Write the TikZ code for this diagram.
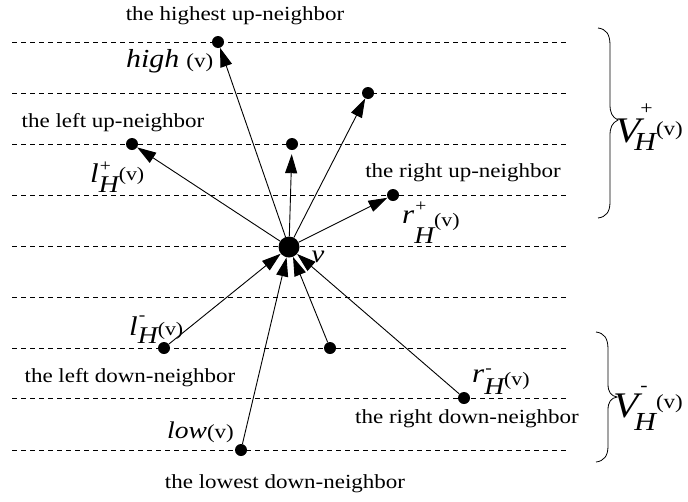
\documentclass[tikz,border=0pt]{standalone}
\usepackage{fontspec}
\setmainfont{Liberation Serif}[FakeStretch=1.15]
\usetikzlibrary{arrows.meta}
\newcommand\fs[1]{\fontsize{#1}{#1}\selectfont}
% #1 letter, #2 sign, #3 sign raise, #4 H drop, #5 (v) raise
\newcommand\nlab[5]{{\fs{27}\itshape #1}\rlap{\raisebox{#3}{\kern1pt\fs{17}#2}}\raisebox{-#4}{\fs{24}\itshape H}\raisebox{#5}{\fs{19}(v)}}
\begin{document}
\begin{tikzpicture}[x=1pt,y=-1pt,
  dot/.style={circle,fill=black,inner sep=0pt,minimum size=12pt},
  bigdot/.style={circle,fill=black,inner sep=0pt,minimum size=21pt},
  level/.style={dash pattern=on 5pt off 4pt,line width=0.6pt},
  arr/.style={line width=0.9pt,-{Triangle[length=19pt,width=12pt]}},
  txt/.style={inner sep=0pt,anchor=base,font=\fs{20}},
  lab/.style={inner sep=0pt,anchor=base west},
  bracestyle/.style={line width=0.8pt}]
\useasboundingbox (0,0) rectangle (688,501);
\foreach \y in {42,93,144,195,246,297,348,398,450} \draw[level] (12,\y) -- (567,\y);
% dots
\node[bigdot] (v) at (289,247) {};
\node[dot] (hi) at (218,42) {};
\node[dot] (lu) at (132,144) {};
\node[dot] (mu) at (292,144) {};
\node[dot] (ur) at (368,93) {};
\node[dot] (ru) at (393,195) {};
\node[dot] (ld) at (164,348) {};
\node[dot] (md) at (330,348) {};
\node[dot] (rd) at (464,398) {};
\node[dot] (lo) at (241,450) {};
% arrows
\draw[arr] (v) -- (hi);
\draw[arr] (v) -- (lu);
\draw[arr,shorten >=4pt] (v) -- (mu);
\draw[arr] (v) -- (ur);
\draw[arr] (v) -- (ru);
\draw[arr] (ld) -- (v);
\draw[arr] (lo) -- (v);
\draw[arr] (md) -- (v);
\draw[arr] (rd) -- (v);
% texts
\node[txt] (t1) at (235,20) {the highest up-neighbor};
\node[txt] (t2) at (113,127) {the left up-neighbor};
\node[txt] (t3) at (463,177) {the right up-neighbor};
\node[txt] (t4) at (130,382) {the left down-neighbor};
\node[txt] (t5) at (467,423) {the right down-neighbor};
\node[txt] (t6) at (285,488) {the lowest down-neighbor};
\node[lab] (hl) at (126,67) {{\fs{26}\itshape high}\hspace{7pt}{\fs{20}(v)}};
\node[lab] (lw) at (167,438) {{\fs{24}\itshape low}{\fs{20}(v)}};
\node[inner sep=0pt,anchor=base] (vl) at (318,262) {\fs{25}\itshape v};
\node[lab] (lp) at (90,182) {\nlab{l}{+}{11pt}{10pt}{2pt}};
\node[lab] (rp) at (402,223) {\nlab{r}{+}{12pt}{20pt}{-3pt}};
\node[lab] (lm) at (129,335) {\nlab{l}{-}{15pt}{8pt}{0pt}};
\node[lab] (rm) at (472,382) {\nlab{r}{-}{9pt}{12pt}{-3pt}};
\node[lab] (Vp) at (615,142) {{\fs{36}\itshape V}\kern-6pt\rlap{\raisebox{28pt}{\kern6pt\fs{19}+}}\raisebox{-8pt}{\fs{26}\itshape H}\raisebox{7pt}{\fs{20}(v)}};
\node[lab] (Vm) at (613,417) {{\fs{36}\itshape V}\kern-4pt\rlap{\raisebox{26pt}{\kern6pt\fs{19}-}}\raisebox{-13pt}{\fs{26}\itshape H}\raisebox{9pt}{\fs{20}(v)}};
% braces
\draw[bracestyle] (598,28) .. controls (606,29) and (610,34) .. (610,45) -- (610,104)
  .. controls (610,113) and (612,117) .. (618,120)
  .. controls (612,123) and (610,127) .. (610,136) -- (610,202)
  .. controls (610,212) and (606,217) .. (598,218);
\draw[bracestyle] (596,332) .. controls (604,333) and (608,338) .. (608,349) -- (608,384)
  .. controls (608,392) and (611,396) .. (617,397)
  .. controls (611,398) and (608,402) .. (608,410) -- (608,446)
  .. controls (608,456) and (604,461) .. (596,462);
\end{tikzpicture}
\end{document}
